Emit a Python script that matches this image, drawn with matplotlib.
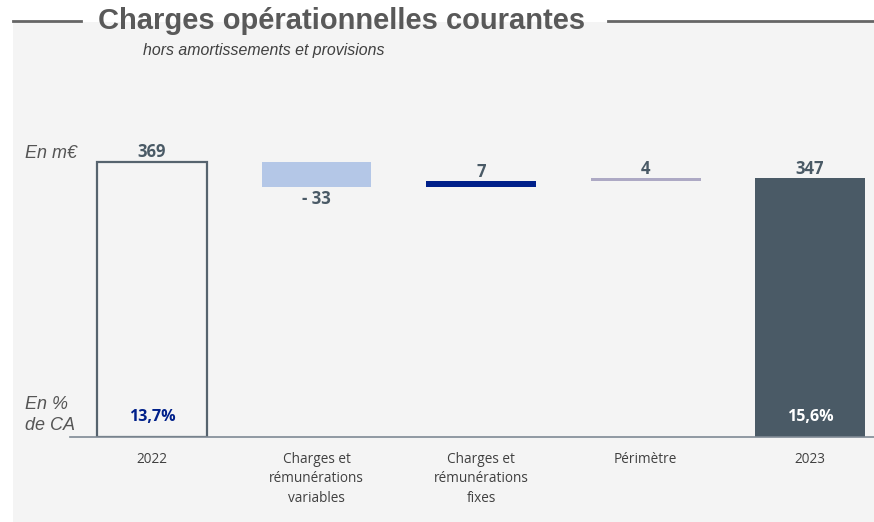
import matplotlib.pyplot as plt
from matplotlib.patches import Rectangle
from matplotlib.lines import Line2D

# Data (m€)
categories = ["2022", "Charges et\nrémunérations\nvariables", "Charges et\nrémunérations\nfixes",
              "Périmètre", "2023"]
start_value = 369
deltas = [-33, 7, 4]            # variations shown as floating bars
delta_labels = ["- 33", "7", "4"]
end_value = 347
pct_labels = ["13,7%", "15,6%"]

W, H = 874, 522
fig = plt.figure(figsize=(W / 100, H / 100), dpi=100, facecolor="white")

# light grey panel
fig.patches.append(Rectangle((13 / W, 0), 1 - 13 / W, 1 - 22 / H, transform=fig.transFigure,
                             facecolor="#f4f4f4", edgecolor="none", zorder=-5))
# title lines
fig.lines.append(Line2D([13 / W, 81 / W], [1 - 21 / H] * 2, transform=fig.transFigure,
                        color="#666666", lw=2))
fig.lines.append(Line2D([608 / W, 1], [1 - 21 / H] * 2, transform=fig.transFigure,
                        color="#666666", lw=2))
fig.text(342 / W, 1 - 21 / H, "Charges opérationnelles courantes", ha="center", va="center",
         fontsize=21, fontweight="bold", color="#595959", family="Liberation Sans")
fig.text(143 / W, 1 - 51 / H, "hors amortissements et provisions", ha="left", va="center",
         fontsize=11.4, style="italic", color="#404040", family="Liberation Sans")

# axes: baseline at y=437 px, 0.745 px per m€
x0, x1 = 70, W
ybase, ytop = 437, 40
ax = fig.add_axes([x0 / W, 1 - ybase / H, (x1 - x0) / W, (ybase - ytop) / H])
ax.set_facecolor("none")
scale = 0.745
ax.set_ylim(0, (ybase - ytop) / scale)
step = 164.5
ax.set_xlim((x0 - 152) / step, (x1 - 152) / step)
bw = 110 / step

for s in ["top", "right", "left"]:
    ax.spines[s].set_visible(False)
ax.spines["bottom"].set_color("#7f8a94")
ax.spines["bottom"].set_linewidth(1.2)
ax.set_yticks([])
ax.set_xticks(range(len(categories)))
ax.set_xticklabels(categories, fontsize=9.8, color="#404040", family="Open Sans",
                   linespacing=1.38, va="top")
ax.tick_params(axis="x", length=0, pad=11)

val_color = "#4a5a66"
lab_kw = dict(ha="center", fontsize=12, fontweight="bold", color=val_color, family="Open Sans")

# 2022 outline bar
ax.bar(0, start_value, width=bw, facecolor="none", edgecolor="#56636e", linewidth=1.6)
ax.text(0, start_value + 1, str(start_value), va="bottom", **lab_kw)

# floating bars
colors = ["#b4c7e7", "#00208a", "#ada9c4"]
level = start_value
for i, (d, c, lab) in enumerate(zip(deltas, colors, delta_labels), start=1):
    lo, hi = min(level, level + d), max(level, level + d)
    ax.bar(i, hi - lo, bottom=lo, width=bw, color=c, edgecolor="none")
    if d < 0:
        ax.text(i, lo - 5, lab, va="top", **lab_kw)
    else:
        ax.text(i, hi + 1, lab, va="bottom", **lab_kw)
    level += d

# 2023 bar
ax.bar(4, end_value, width=bw, color="#4a5a66", edgecolor="none")
ax.text(4, end_value + 1, str(end_value), va="bottom", **lab_kw)

# % of revenue
ax.text(0, 27, pct_labels[0], va="center", ha="center", fontsize=11.5, fontweight="bold",
        color="#00208a", family="Open Sans")
ax.text(4, 27, pct_labels[1], va="center", ha="center", fontsize=11.5, fontweight="bold",
        color="white", family="Open Sans")

# left side units
fig.text(25 / W, 1 - 153 / H, "En m€", ha="left", va="center", fontsize=13,
         style="italic", color="#555555", family="Liberation Sans")
fig.text(25 / W, 1 - 415 / H, "En %\nde CA", ha="left", va="center", fontsize=13,
         style="italic", color="#555555", family="Liberation Sans", linespacing=1.25)

fig.savefig("out.png", dpi=100, facecolor="white")
